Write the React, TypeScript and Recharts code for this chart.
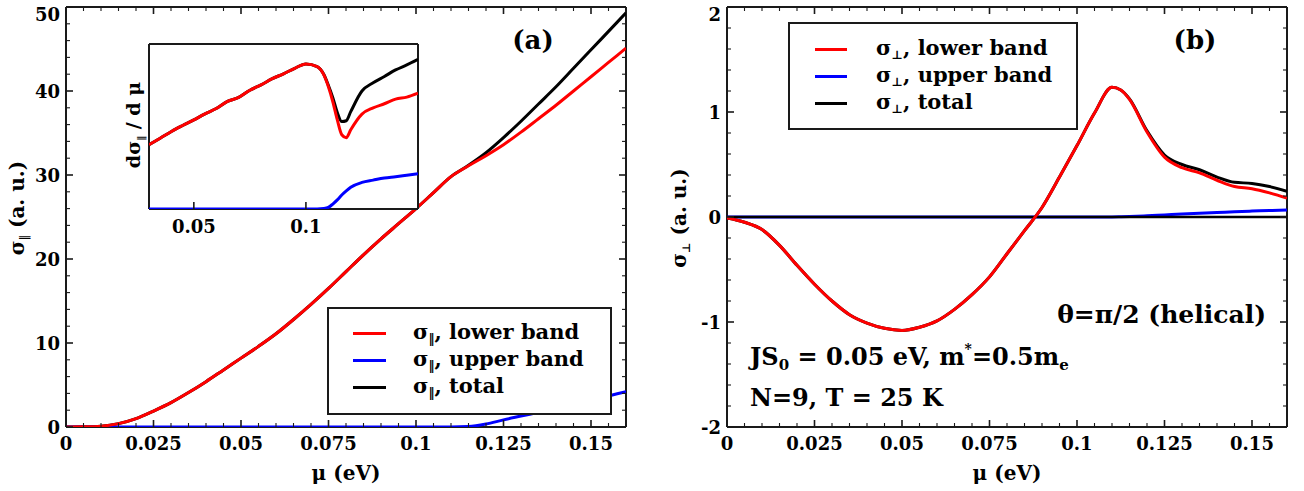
import React from 'react';
import { LineChart, Line, XAxis, YAxis, Legend, ReferenceLine, CartesianGrid } from 'recharts';

const FONT = "'DejaVu Serif', 'Liberation Serif', serif";
const INK = '#1a1a1a';
const RED = '#ff0000';
const BLUE = '#0000ff';
const BLACK = '#000000';

// ---- panel (a): sigma parallel vs mu ----
const muA = [0, 0.005, 0.01, 0.015, 0.02, 0.025, 0.03, 0.035, 0.04, 0.045, 0.05, 0.055, 0.06, 0.065, 0.07, 0.075, 0.08, 0.085, 0.09, 0.095, 0.1, 0.105, 0.11, 0.115, 0.12, 0.125, 0.13, 0.135, 0.14, 0.145, 0.15, 0.155, 0.16];
const lowerA = [0, 0.02, 0.1, 0.4, 1.0, 1.9, 2.9, 4.1, 5.4, 6.8, 8.2, 9.6, 11.1, 12.8, 14.6, 16.5, 18.5, 20.5, 22.4, 24.2, 26.0, 27.9, 29.8, 31.1, 32.3, 33.6, 35.1, 36.7, 38.3, 40.0, 41.7, 43.4, 45.1];
const upperA = [0, 0, 0, 0, 0, 0, 0, 0, 0, 0, 0, 0, 0, 0, 0, 0, 0, 0, 0, 0, 0, 0, 0, 0.05, 0.35, 0.85, 1.3, 1.75, 2.2, 2.7, 3.2, 3.7, 4.2];
const totalA = [0, 0.02, 0.1, 0.4, 1.0, 1.9, 2.9, 4.1, 5.4, 6.8, 8.2, 9.6, 11.1, 12.8, 14.6, 16.5, 18.5, 20.5, 22.4, 24.2, 26.0, 27.9, 29.8, 31.15, 32.65, 34.45, 36.4, 38.45, 40.5, 42.7, 44.9, 47.1, 49.3];

// ---- inset: d sigma / d mu ----
const muIn = [0.03, 0.035, 0.04, 0.045, 0.05, 0.055, 0.06, 0.065, 0.07, 0.075, 0.08, 0.085, 0.09, 0.095, 0.1, 0.105, 0.108, 0.11, 0.112, 0.114, 0.116, 0.118, 0.12, 0.125, 0.13, 0.135, 0.14, 0.145, 0.15];
const lowerIn = [38.9, 42.9, 47.0, 50.6, 54.0, 57.7, 60.9, 65.2, 67.6, 72.0, 75.2, 79.0, 81.9, 85.3, 87.9, 86.3, 81.3, 74.2, 65.0, 54.0, 45.0, 43.2, 48.0, 57.5, 61.3, 63.8, 66.6, 67.8, 70.2];
const upperIn = [0, 0, 0, 0, 0, 0, 0, 0, 0, 0, 0, 0, 0, 0, 0, 0, 0.3, 1.0, 3.0, 5.5, 8.5, 11.0, 13.2, 16.1, 17.5, 18.8, 19.6, 20.5, 21.4];
const totalIn = [38.9, 42.9, 47.0, 50.6, 54.0, 57.7, 60.9, 65.2, 67.6, 72.0, 75.2, 79.0, 81.9, 85.3, 87.9, 86.3, 81.5, 75.0, 67.5, 58.5, 53.0, 53.5, 59.0, 71.5, 76.5, 80.3, 84.3, 87.3, 90.7];

// ---- panel (b): sigma perpendicular vs mu ----
const muB = [0, 0.005, 0.01, 0.015, 0.02, 0.025, 0.03, 0.035, 0.04, 0.045, 0.05, 0.055, 0.06, 0.065, 0.07, 0.075, 0.08, 0.085, 0.09, 0.095, 0.1, 0.105, 0.11, 0.1125, 0.115, 0.12, 0.125, 0.13, 0.135, 0.14, 0.145, 0.15, 0.155, 0.16];
const lowerB = [-0.01, -0.05, -0.12, -0.27, -0.46, -0.64, -0.8, -0.93, -1.01, -1.06, -1.08, -1.05, -0.99, -0.88, -0.74, -0.57, -0.35, -0.13, 0.09, 0.38, 0.68, 0.99, 1.235, 1.21, 1.12, 0.81, 0.57, 0.47, 0.42, 0.35, 0.29, 0.27, 0.23, 0.18];
const upperB = [0, 0, 0, 0, 0, 0, 0, 0, 0, 0, 0, 0, 0, 0, 0, 0, 0, 0, 0, 0, 0, 0, 0, 0.002, 0.005, 0.012, 0.02, 0.028, 0.035, 0.042, 0.05, 0.056, 0.062, 0.067];
const totalB = [-0.01, -0.05, -0.12, -0.27, -0.46, -0.64, -0.8, -0.93, -1.01, -1.06, -1.08, -1.05, -0.99, -0.88, -0.74, -0.57, -0.35, -0.13, 0.09, 0.38, 0.68, 0.99, 1.235, 1.21, 1.125, 0.82, 0.59, 0.5, 0.45, 0.38, 0.33, 0.32, 0.29, 0.245];

// tick labels
const majorX = [0, 0.025, 0.05, 0.075, 0.1, 0.125, 0.15];
const majorYA = [0, 10, 20, 30, 40, 50];
const majorYB = [-2, -1, 0, 1, 2];
const majorXIn = [0.05, 0.1];

const steps = (from: number, to: number, step: number) =>
  Array.from({ length: Math.round((to - from) / step) + 1 }, (_, i) => +(from + i * step).toFixed(4));
const minorX = steps(0, 0.16, 0.005);
const minorYA = steps(0, 50, 2);
const minorYB = steps(-2, 2, 0.2);

const rowsA = muA.map((mu, i) => ({ mu, lower: lowerA[i], upper: upperA[i], total: totalA[i] }));
const rowsIn = muIn.map((mu, i) => ({ mu, lower: lowerIn[i], upper: upperIn[i], total: totalIn[i] }));
const rowsB = muB.map((mu, i) => ({ mu, lower: lowerB[i], upper: upperB[i], total: totalB[i] }));

const textStyle: React.CSSProperties = { fontFamily: FONT, fontWeight: 700, fill: '#000', color: '#000' };

type Side = 'bottom' | 'top' | 'left' | 'right';
const isMajor = (v: number, majors: number[]) => majors.some((m) => Math.abs(m - v) < 1e-9);

// inward tick marks, labels outside (xmgrace look)
const tickFor = (side: Side, majors: number[], labels: boolean, drop = 23) => (p: any) => {
  const { x, y, payload } = p;
  const v = payload.value;
  const big = isMajor(v, majors);
  const len = big ? 7 : 4;
  const end = { bottom: [x, y - len], top: [x, y + len], left: [x + len, y], right: [x - len, y] }[side];
  const txt = v < 0 ? `-${Math.abs(v)}` : String(v);
  return (
    <g>
      <line x1={x} y1={y} x2={end[0]} y2={end[1]} stroke={INK} strokeWidth={big ? 1.6 : 1.1} />
      {labels && big && side === 'bottom' && (
        <text x={x} y={y + drop} textAnchor="middle" fontSize={18} style={textStyle}>{txt}</text>
      )}
      {labels && big && side === 'left' && (
        <text x={x - 6} y={Math.max(y + 6.5, 21)} textAnchor="end" fontSize={18} style={textStyle}>{txt}</text>
      )}
    </g>
  );
};

const ORDER = ['lower band', 'upper band', 'total'];
const legendBox = (sub: string, padTop: number, padLeft: number, len: number, gap: number) => (props: any) => {
  const items = [...(props.payload || [])]
    .filter((it: any) => ORDER.includes(it.value))
    .sort((a: any, b: any) => ORDER.indexOf(a.value) - ORDER.indexOf(b.value));
  return (
    <div style={{ width: '100%', height: '100%', boxSizing: 'border-box', border: `2px solid ${INK}`, background: '#fff', paddingTop: padTop }}>
      {items.map((it: any) => (
        <div key={it.value} style={{ display: 'flex', alignItems: 'center', height: 27 }}>
          <span style={{ flex: 'none', width: len, height: 3, background: it.color, marginLeft: padLeft, marginRight: gap }} />
          <span style={{ ...textStyle, fontSize: 21, lineHeight: '27px', whiteSpace: 'nowrap' }}>
            σ<span style={{ fontSize: 12, position: 'relative', top: 4 }}>{sub}</span>, {it.value}
          </span>
        </div>
      ))}
    </div>
  );
};

const axisLine = { stroke: INK, strokeWidth: 2 };

// lines sit on top of the frame, red drawn last
const series = (w = 3) => [
  <Line key="t" dataKey="total" name="total" type="monotone" stroke={BLACK} strokeWidth={w} dot={false} isAnimationActive={false} zIndex={610} />,
  <Line key="u" dataKey="upper" name="upper band" type="monotone" stroke={BLUE} strokeWidth={w} dot={false} isAnimationActive={false} zIndex={620} />,
  <Line key="l" dataKey="lower" name="lower band" type="monotone" stroke={RED} strokeWidth={w} dot={false} isAnimationActive={false} zIndex={630} />,
];

const frameAxes = (yDomain: number[], yMinor: number[], yMajor: number[], yWidth: number) => [
  <XAxis key="xb" dataKey="mu" type="number" domain={[0, 0.16]} allowDataOverflow ticks={minorX} interval={0} height={64}
    tickSize={0} tickMargin={0} tickLine={false} axisLine={axisLine} tick={tickFor('bottom', majorX, true)} />,
  <XAxis key="xt" xAxisId="top" orientation="top" dataKey="mu" type="number" domain={[0, 0.16]} allowDataOverflow ticks={minorX} interval={0} height={1}
    tickSize={0} tickMargin={0} tickLine={false} axisLine={axisLine} tick={tickFor('top', majorX, false)} />,
  <YAxis key="yl" type="number" domain={yDomain} allowDataOverflow ticks={yMinor} interval={0} width={yWidth}
    tickSize={0} tickMargin={0} tickLine={false} axisLine={axisLine} tick={tickFor('left', yMajor, true)} />,
  <YAxis key="yr" yAxisId="right" orientation="right" type="number" domain={yDomain} allowDataOverflow ticks={yMinor} interval={0} width={1}
    tickSize={0} tickMargin={0} tickLine={false} axisLine={axisLine} tick={tickFor('right', yMajor, false)} />,
];

const PanelA = () => (
  <div style={{ position: 'absolute', left: 0, top: 0 }}>
    <LineChart width={660} height={491} data={rowsA} margin={{ top: 6, right: 33, bottom: 0, left: 0 }}>
      {frameAxes([0, 50], minorYA, majorYA, 66)}
      {series(3)}
      <Legend layout="horizontal" verticalAlign="middle" align="center"
        content={legendBox('‖', 11, 24, 33, 27)}
        wrapperStyle={{ left: 327, top: 307, width: 285, height: 108 }} />
    </LineChart>
  </div>
);

const Inset = () => (
  <div style={{ position: 'absolute', left: 100, top: 30 }}>
    <LineChart width={330} height={220} data={rowsIn} margin={{ top: 13, right: 11, bottom: 0, left: 0 }}>
      <CartesianGrid fill="#fff" horizontal={false} vertical={false} />
      <XAxis dataKey="mu" type="number" domain={[0.03, 0.15]} allowDataOverflow ticks={majorXIn} interval={0} height={41}
        tickSize={0} tickMargin={0} tickLine={false} axisLine={axisLine} tick={tickFor('bottom', majorXIn, true, 24)} />
      <XAxis xAxisId="top" orientation="top" dataKey="mu" type="number" domain={[0.03, 0.15]} height={1} tick={false} tickLine={false} axisLine={axisLine} />
      <YAxis type="number" domain={[0, 100]} allowDataOverflow width={49} tick={false} tickLine={false} axisLine={axisLine} />
      <YAxis yAxisId="right" orientation="right" type="number" domain={[0, 100]} width={1} tick={false} tickLine={false} axisLine={axisLine} />
      {series(3)}
    </LineChart>
  </div>
);

const PanelB = () => (
  <div style={{ position: 'absolute', left: 640, top: 0 }}>
    <LineChart width={664} height={491} data={rowsB} margin={{ top: 6, right: 16, bottom: 0, left: 0 }}>
      {frameAxes([-2, 2], minorYB, majorYB, 87)}
      {series(3)}
      <ReferenceLine y={0} stroke={BLACK} strokeWidth={2.5} zIndex={625} />
      <Legend layout="horizontal" verticalAlign="middle" align="center"
        content={legendBox('⊥', 12, 25, 32, 29)}
        wrapperStyle={{ left: 148, top: 22, width: 290, height: 108 }} />
    </LineChart>
  </div>
);

const Labels = () => (
  <svg width={1304} height={491} style={{ position: 'absolute', left: 0, top: 0, pointerEvents: 'none' }}>
    <g style={textStyle}>
      <text x={533} y={49} fontSize={26} textAnchor="middle">(a)</text>
      <text x={1195} y={49} fontSize={26} textAnchor="middle">(b)</text>
      <text x={346} y={480} fontSize={20} textAnchor="middle">μ (eV)</text>
      <text x={1007} y={480} fontSize={20} textAnchor="middle">μ (eV)</text>
      <text x={24} y={208} fontSize={20} textAnchor="middle" transform="rotate(-90 24 208)">
        σ<tspan fontSize={11} dy={4}>‖</tspan><tspan dy={-4}> (a. u.)</tspan>
      </text>
      <text x={686} y={218} fontSize={20} textAnchor="middle" transform="rotate(-90 686 218)">
        σ<tspan fontSize={11} dy={4}>⊥</tspan><tspan dy={-4}> (a. u.)</tspan>
      </text>
      <text x={140} y={125} fontSize={19} textAnchor="middle" transform="rotate(-90 140 125)">
        dσ<tspan fontSize={10} dy={4}>‖</tspan><tspan dy={-4}> / d μ</tspan>
      </text>
      <text x={1266} y={323} fontSize={25} textAnchor="end">θ=π/2 (helical)</text>
      <text x={750} y={365} fontSize={24}>
        JS<tspan fontSize={15} dy={5}>0</tspan><tspan dy={-5}> = 0.05 eV, m</tspan><tspan fontSize={14} dy={-11}>*</tspan>
        <tspan dy={11}>=0.5m</tspan><tspan fontSize={15} dy={5}>e</tspan>
      </text>
      <text x={750} y={406} fontSize={24}>N=9, T = 25 K</text>
    </g>
  </svg>
);

export default function App() {
  return (
    <div style={{ position: 'absolute', left: 0, top: 0, width: 1304, height: 491, background: '#fff' }}>
      <PanelA />
      <Inset />
      <PanelB />
      <Labels />
    </div>
  );
}
